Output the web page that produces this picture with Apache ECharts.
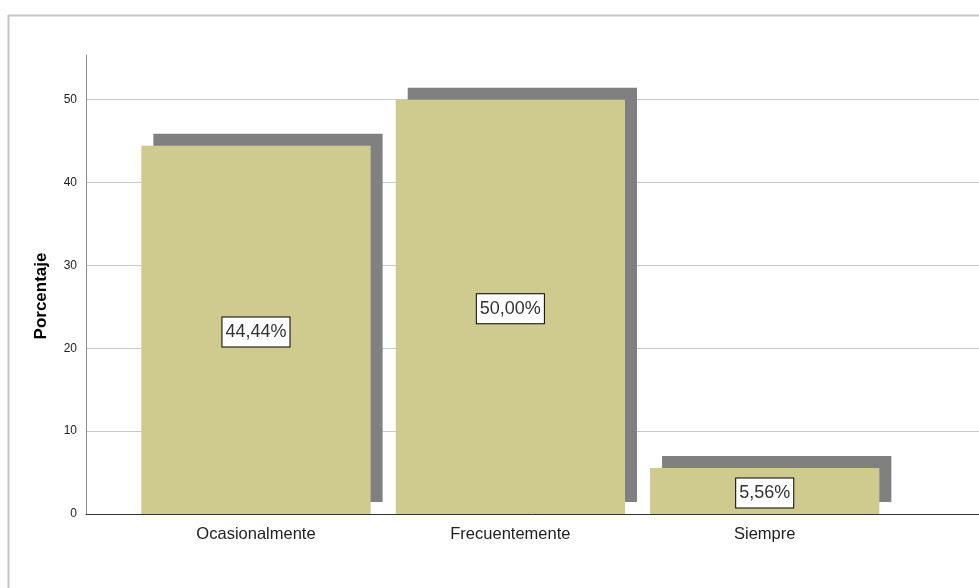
<!DOCTYPE html>
<html>
<head>
<meta charset="utf-8">
<script src="https://cdn.jsdelivr.net/npm/echarts@6/dist/echarts.min.js"></script>
<style>
html,body{margin:0;padding:0;background:#fff;}
#c{width:979px;height:588px;}
</style>
</head>
<body>
<div id="c"></div>
<script>
var categories = ['Ocasionalmente', 'Frecuentemente', 'Siempre'];
var porcentajes = [44.44, 50.00, 5.56];
var yTicks = [0, 10, 20, 30, 40, 50];
var yMax = 55.4;
var yName = 'Porcentaje';

var chart = echarts.init(document.getElementById('c'), null, {renderer: 'canvas'});
var font = 'Liberation Sans, Arial, sans-serif';

chart.setOption({
  animation: false,
  backgroundColor: '#fff',
  graphic: [
    {type: 'line', shape: {x1: 8.5, y1: 15, x2: 8.5, y2: 600}, style: {stroke: '#c6c6c6', lineWidth: 2}, silent: true},
    {type: 'line', shape: {x1: 8, y1: 15.5, x2: 990, y2: 15.5}, style: {stroke: '#c6c6c6', lineWidth: 2}, silent: true},
    {type: 'text', x: 41, y: 296, rotation: Math.PI / 2,
     style: {text: yName, font: 'bold 17px ' + font, fill: '#000', align: 'center', verticalAlign: 'middle'},
     silent: true, z: 10}
  ],
  grid: [
    {left: 86, right: 0, top: 55, bottom: 74},
    {left: 128.8, right: 87.1, top: 55, bottom: 74}
  ],
  xAxis: [
    {gridIndex: 0, type: 'value', min: 0, max: 1,
     axisLine: {show: true, lineStyle: {color: '#333', width: 1}},
     axisTick: {show: false}, axisLabel: {show: false}, splitLine: {show: false}},
    {gridIndex: 1, type: 'category', data: categories,
     axisLine: {show: false}, axisTick: {show: false},
     axisLabel: {show: true, color: '#222', fontSize: 16.5, fontFamily: font, margin: 12}}
  ],
  yAxis: [
    {gridIndex: 0, type: 'value', min: yTicks[0], max: yMax, interval: yTicks[1] - yTicks[0],
     axisLine: {show: true, lineStyle: {color: '#8c8c8c', width: 1}},
     axisTick: {show: false},
     axisLabel: {show: true, color: '#222', fontSize: 12, fontFamily: font, margin: 9, showMaxLabel: false},
     splitLine: {show: true, showMinLine: false, showMaxLine: false, lineStyle: {color: '#c8c8c8', width: 1}}},
    {gridIndex: 1, type: 'value', min: yTicks[0], max: yMax, show: false}
  ],
  series: [
    {type: 'bar', xAxisIndex: 1, yAxisIndex: 1, data: porcentajes, barWidth: 229.3,
     itemStyle: {color: '#cfca8e', shadowColor: '#808080', shadowBlur: 0, shadowOffsetX: 12, shadowOffsetY: -12},
     label: {show: true, position: 'inside', offset: [0, 2],
       formatter: function (p) { return p.value.toFixed(2).replace('.', ',') + '%'; },
       color: '#333', fontSize: 18, fontFamily: font, lineHeight: 20,
       backgroundColor: '#fff', borderColor: '#000', borderWidth: 1, padding: [5, 3, 4, 3]}
    }
  ]
});
</script>
</body>
</html>
